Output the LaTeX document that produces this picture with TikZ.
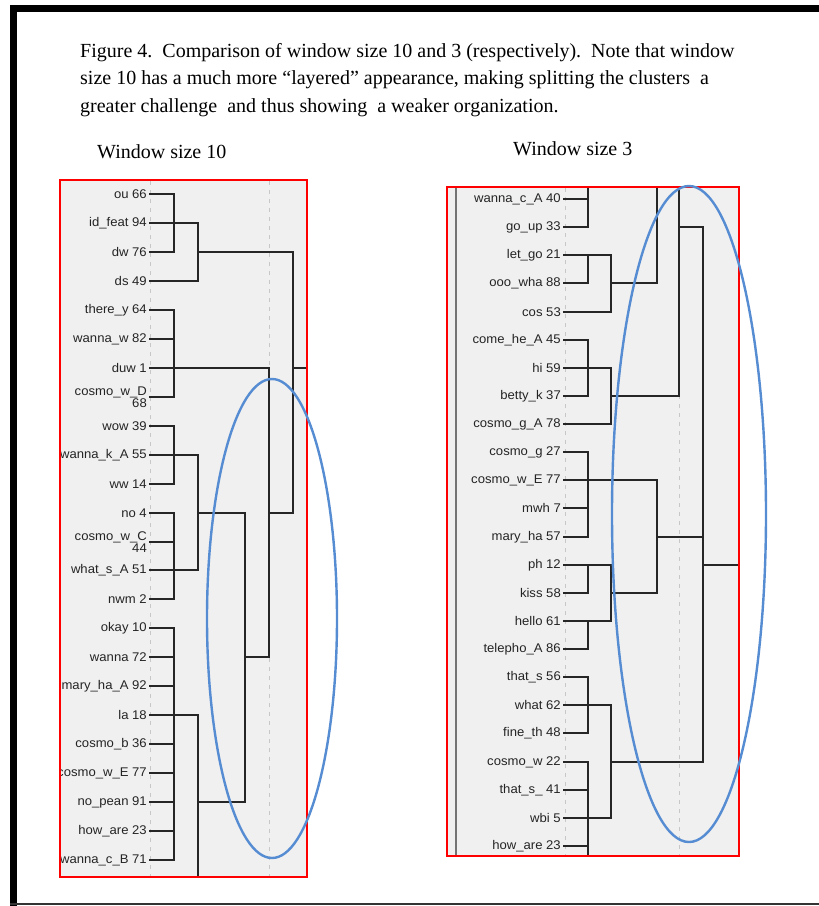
\documentclass[tikz,border=0pt]{standalone}
\usepackage{fontspec}
\setmainfont{Liberation Serif}
\newfontfamily\lblfont[FakeStretch=1.04]{Liberation Sans}
\definecolor{blueline}{RGB}{86,140,210}
\definecolor{panelgray}{RGB}{240,240,240}
\begin{document}
\begin{tikzpicture}[x=1pt,y=-1pt,
  tree/.style={line width=2pt, draw=black!85},
  guide/.style={draw=black!22, line width=1pt, dash pattern=on 4pt off 5pt},
  panel/.style={draw=red, line width=2pt},
  blob/.style={draw=blueline, line width=2.4pt},
  leaf/.style={font=\lblfont\fontsize{12.6}{11}\selectfont, text=black!86,
               anchor=east, inner sep=0pt, align=right},
  captext/.style={font=\fontsize{20}{24}\selectfont, anchor=base west, inner sep=0pt}
]
\useasboundingbox (0,0) rectangle (819,906);
\fill[white] (0,0) rectangle (819,906);

% page frame
\fill[black] (10,5) rectangle (819,11.5);
\fill[black] (10,5) rectangle (16.5,906);
\draw[black!80, line width=2pt] (10,904) -- (819,904);

% caption and panel titles
\node[captext] (cap1) at (80,57) {Figure 4.\ \ Comparison of window size 10 and 3 (respectively).\ \ Note that window};
\node[captext] (cap2) at (80,84.5) {size 10 has a much more “layered” appearance, making splitting the clusters\ \ a};
\node[captext] (cap3) at (80,112) {greater challenge\ \ and thus showing\ \ a weaker organization.};
\node[captext] (t10) at (97,158) {Window size 10};
\node[captext] (t3) at (513,155) {Window size 3};

% ---------------- left dendrogram (window size 10) ----------------
\fill[panelgray] (60,180) rectangle (307,877);
\begin{scope}
  \clip (61,181) rectangle (306,876);
  \draw[guide] (150.5,181) -- (150.5,876);
  \draw[guide] (269,181) -- (269,876);
  \foreach \t [count=\i from 0] in {ou 66, id\_feat 94, dw 76, ds 49, there\_y 64,
      wanna\_w 82, duw 1, {cosmo\_w\_D\\68}, wow 39, wanna\_k\_A 55, ww 14, no 4,
      {cosmo\_w\_C\\44}, what\_s\_A 51, nwm 2, okay 10, wanna 72, mary\_ha\_A 92,
      la 18, cosmo\_b 36, cosmo\_w\_E 77, no\_pean 91, how\_are 23, wanna\_c\_B 71} {
    \pgfmathsetmacro\yy{round(194+28.96*\i)}
    \node[leaf] (l\i) at (147,\yy) {\t};
    \coordinate (L\i) at (149,\yy);
  }
  \coordinate (c1) at (174,0);
  \coordinate (c2) at (198,0);
  \coordinate (c3) at (245,0);
  \coordinate (c4) at (269,0);
  \coordinate (c5) at (293,0);
  \coordinate (cE) at (308,0);
  \coordinate (cB) at (0,878);

  \draw[tree] (L0) -| (c1 |- L2) -- (L2);
  \draw[tree] (L1) -| (c2 |- L3) -- (L3);
  \draw[tree] (c2 |- L2) -| (c5 |- L11) -- (c4 |- L11);
  \draw[tree] (L4) -| (c1 |- L7) -- (L7);
  \draw[tree] (L5) -- (c1 |- L5);
  \draw[tree] (L6) -| (c4 |- L16) -- (c3 |- L16);
  \draw[tree] (c5 |- L6) -- (cE |- L6);
  \draw[tree] (L8) -| (c1 |- L10) -- (L10);
  \draw[tree] (L9) -| (c2 |- L13) -- (L13);
  \draw[tree] (L11) -| (c1 |- L14) -- (L14);
  \draw[tree] (L12) -- (c1 |- L12);
  \draw[tree] (c2 |- L11) -| (c3 |- L21) -- (c2 |- L21);
  \draw[tree] (L15) -| (c1 |- L23) -- (L23);
  \foreach \k in {16,17,19,20,21,22} \draw[tree] (L\k) -- (c1 |- L\k);
  \draw[tree] (L18) -| (c2 |- cB);
\end{scope}
\draw[panel] (60,180) rectangle (307,877);
\draw[blob] (272,618.5) ellipse [x radius=65pt, y radius=239.5pt];

% ---------------- right dendrogram (window size 3) ----------------
\fill[panelgray] (447,187) rectangle (739,856);
\begin{scope}
  \clip (448,188) rectangle (738,855);
  \draw[black!55, line width=2pt] (456,187) -- (456,856);
  \draw[guide] (565.5,188) -- (565.5,855);
  \draw[guide] (679,188) -- (679,855);
  \foreach \t [count=\i from 0] in {wanna\_c\_A 40, go\_up 33, let\_go 21, ooo\_wha 88,
      cos 53, come\_he\_A 45, hi 59, betty\_k 37, cosmo\_g\_A 78, cosmo\_g 27,
      cosmo\_w\_E 77, mwh 7, mary\_ha 57, ph 12, kiss 58, hello 61, telepho\_A 86,
      that\_s 56, what 62, fine\_th 48, cosmo\_w 22, that\_s\_ 41, wbi 5, how\_are 23} {
    \pgfmathsetmacro\yy{round(199+28.13*\i)}
    \node[leaf] (r\i) at (561,\yy) {\t};
    \coordinate (R\i) at (563,\yy);
  }
  \coordinate (d1) at (588,0);
  \coordinate (d2) at (611,0);
  \coordinate (d3) at (657,0);
  \coordinate (d4) at (679,0);
  \coordinate (d5) at (703,0);
  \coordinate (dE) at (740,0);
  \coordinate (rT) at (0,186);
  \coordinate (rB) at (0,857);

  \draw[tree] (d1 |- rT) |- (R1);
  \draw[tree] (R0) -- (d1 |- R0);
  \draw[tree] (d3 |- rT) |- (d2 |- R3);
  \draw[tree] (d4 |- rT) |- (d2 |- R7);
  \draw[tree] (d4 |- R1) -| (d5 |- R20) -- (d2 |- R20);
  \draw[tree] (R2) -| (d2 |- R4) -- (R4);
  \draw[tree] (R3) -| (d1 |- R2);
  \draw[tree] (R5) -| (d1 |- R7) -- (R7);
  \draw[tree] (R6) -| (d2 |- R8) -- (R8);
  \draw[tree] (R9) -| (d1 |- R12) -- (R12);
  \draw[tree] (R11) -- (d1 |- R11);
  \draw[tree] (R10) -| (d3 |- R14) -- (d2 |- R14);
  \draw[tree] (d3 |- R12) -- (d5 |- R12);
  \draw[tree] (d5 |- R13) -- (dE |- R13);
  \draw[tree] (R13) -| (d2 |- R15) -- (R15);
  \draw[tree] (R14) -| (d1 |- R13);
  \draw[tree] (R16) -| (d1 |- R15);
  \draw[tree] (R17) -| (d1 |- R19) -- (R19);
  \draw[tree] (R18) -| (d2 |- R22) -- (R22);
  \draw[tree] (R20) -| (d1 |- rB);
  \draw[tree] (R21) -- (d1 |- R21);
  \draw[tree] (R23) -- (d1 |- R23);
\end{scope}
\draw[panel] (447,187) rectangle (739,856);
\draw[blob] (689,514) ellipse [x radius=77pt, y radius=328pt];
\end{tikzpicture}
\end{document}
